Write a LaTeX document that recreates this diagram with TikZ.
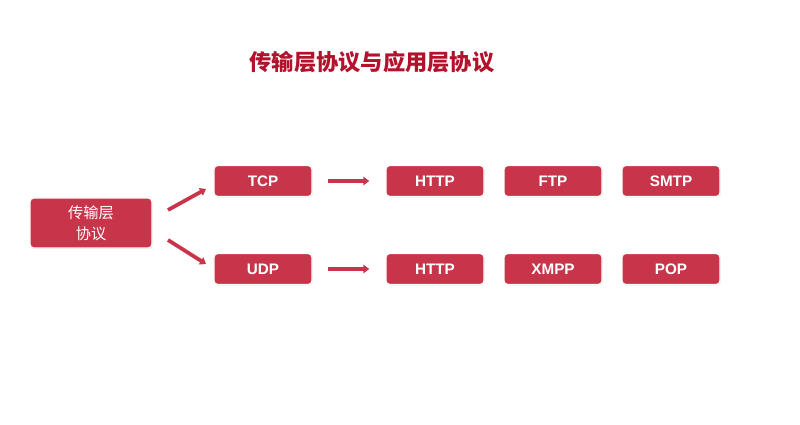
\documentclass[tikz,border=0pt]{standalone}
\usepackage{fontspec}
\setmainfont{Liberation Sans}
\newfontfamily\cjk{Noto Sans CJK SC}
\usetikzlibrary{arrows.meta,shadows}
\definecolor{boxred}{HTML}{C8354B}
\definecolor{titred}{HTML}{B3122C}
\tikzset{
  box/.style={draw=white,line width=1.2pt,fill=boxred,rounded corners=3pt,text=white,font=\bfseries\fontsize{13}{15}\selectfont,minimum width=98\px,minimum height=31\px,inner sep=0pt,drop shadow={opacity=0.25,shadow xshift=0.5pt,shadow yshift=-0.8pt}},
  arr/.style={line width=3.2pt,boxred,-{Triangle[length=5pt,width=7pt]},preaction={draw=white,line width=5pt,-{Triangle[length=6pt,width=9pt]}}}
}
\newlength{\px}\setlength{\px}{0.3mm}
\begin{document}
\begin{tikzpicture}[x=0.03cm,y=-0.03cm]
\useasboundingbox[fill=white] (0,0) rectangle (800,425);
\node[font=\cjk\bfseries\fontsize{19}{22}\selectfont,text=titred] (title) at (372,62) {传输层协议与应用层协议};
\node[box,minimum width=122\px,minimum height=50\px,font=\cjk\fontsize{13}{18}\selectfont,align=center] (tl) at (91,223) {传输层\\协议};
\node[box] (tcp) at (263,181) {TCP};
\node[box] (udp) at (263,269) {UDP};
\node[box] (h1) at (435,181) {HTTP};
\node[box] (ftp) at (553,181) {FTP};
\node[box] (smtp) at (671,181) {SMTP};
\node[box] (h2) at (435,269) {HTTP};
\node[box] (xmpp) at (553,269) {XMPP};
\node[box] (pop) at (671,269) {POP};
\coordinate (a1s) at (168,210); \coordinate (a1e) at (206,189);
\coordinate (a2s) at (168,240); \coordinate (a2e) at (206,264);
\draw[arr] (a1s) -- (a1e);
\draw[arr] (a2s) -- (a2e);
\draw[arr] ([xshift=15\px]tcp.east) -- ([xshift=-16\px]h1.west);
\draw[arr] ([xshift=15\px]udp.east) -- ([xshift=-16\px]h2.west);
\end{tikzpicture}
\end{document}
